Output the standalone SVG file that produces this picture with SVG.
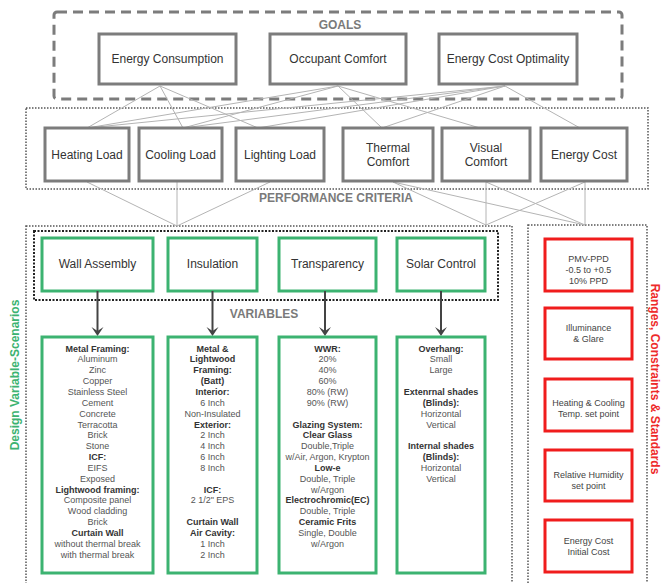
<svg xmlns="http://www.w3.org/2000/svg" width="672" height="583" viewBox="0 0 672 583">
<style>
text{font-family:"Liberation Sans",Arial,sans-serif;text-anchor:middle}
.gbox{fill:#fff;stroke:#7c7c7c;stroke-width:3}
.grn{fill:#fff;stroke:#3cb371;stroke-width:3}
.red{fill:#fff;stroke:#f01c1c;stroke-width:3}
.lbl{font-size:12px;fill:#333}
.sec{font-size:12px;font-weight:bold;fill:#7a7a7a}
.sm{font-size:9px;fill:#444}
.dt{font-size:9px;fill:#555}
.dt .b{font-weight:bold;fill:#333}
.conn line{stroke:#b4b4b4;stroke-width:1}
.dot{fill:none;stroke:#555;stroke-width:1.5;stroke-dasharray:1.5 1.5}
.dot2{fill:none;stroke:#222;stroke-width:2;stroke-dasharray:2 1.5}
.arr line{stroke:#444;stroke-width:2}
.arr path{fill:#444}
</style>

<g id="section-boxes">
<rect x="54" y="12" width="568" height="87" rx="3" fill="none" stroke="#7c7c7c" stroke-width="3" stroke-dasharray="10 6"/>
<rect class="dot" x="26" y="108" width="622" height="81"/>
<rect class="dot" x="26" y="226" width="486" height="362"/>
<rect class="dot2" x="34" y="231" width="464" height="69"/>
<rect class="dot" x="528" y="225" width="119" height="363"/>
<text class="sec" x="340" y="29">GOALS</text>
<text class="sec" x="336" y="202">PERFORMANCE CRITERIA</text>
<text class="sec" x="264" y="318">VARIABLES</text>
<text transform="translate(19,375) rotate(-90)" style="font-size:12px;font-weight:bold;fill:#3cb371">Design Variable-Scenarios</text>
<text transform="translate(651,379) rotate(90)" style="font-size:12px;font-weight:bold;fill:#ee2a2a">Ranges, Constraints &amp; Standards</text>
</g>

<g id="connectors" class="conn">
<line x1="160" y1="86" x2="87" y2="128"/>
<line x1="160" y1="86" x2="183" y2="128"/>
<line x1="160" y1="86" x2="258" y2="128"/>
<line x1="338" y1="86" x2="87" y2="128"/>
<line x1="338" y1="86" x2="183" y2="128"/>
<line x1="338" y1="86" x2="382" y2="128"/>
<line x1="338" y1="86" x2="480" y2="128"/>
<line x1="505" y1="86" x2="87" y2="128"/>
<line x1="505" y1="86" x2="183" y2="128"/>
<line x1="505" y1="86" x2="258" y2="128"/>
<line x1="505" y1="86" x2="382" y2="128"/>
<line x1="505" y1="86" x2="580" y2="128"/>
<line x1="87" y1="182" x2="177" y2="226"/>
<line x1="177" y1="182" x2="177" y2="226"/>
<line x1="270" y1="182" x2="177" y2="226"/>
<line x1="393" y1="182" x2="486" y2="225"/>
<line x1="393" y1="182" x2="585" y2="225"/>
<line x1="486" y1="182" x2="486" y2="225"/>
<line x1="486" y1="182" x2="585" y2="225"/>
<line x1="585" y1="182" x2="585" y2="225"/>
<line x1="585" y1="182" x2="486" y2="225"/>
</g>

<g id="goal-energy-consumption"><rect class="gbox" x="99" y="34" width="137" height="50"/><text class="lbl" x="167.5" y="63">Energy Consumption</text></g>
<g id="goal-occupant-comfort"><rect class="gbox" x="270" y="34" width="136" height="50"/><text class="lbl" x="338" y="63">Occupant Comfort</text></g>
<g id="goal-energy-cost-optimality"><rect class="gbox" x="439" y="34" width="138" height="50"/><text class="lbl" x="508" y="63">Energy Cost Optimality</text></g>

<g id="crit-heating-load"><rect class="gbox" x="45" y="128" width="84" height="53"/><text class="lbl" x="87" y="159">Heating Load</text></g>
<g id="crit-cooling-load"><rect class="gbox" x="139" y="128" width="83" height="53"/><text class="lbl" x="180.5" y="159">Cooling Load</text></g>
<g id="crit-lighting-load"><rect class="gbox" x="236" y="128" width="88" height="53"/><text class="lbl" x="280" y="159">Lighting Load</text></g>
<g id="crit-thermal-comfort"><rect class="gbox" x="343" y="128" width="90" height="53"/><text class="lbl" x="388" y="152">Thermal</text><text class="lbl" x="388" y="166">Comfort</text></g>
<g id="crit-visual-comfort"><rect class="gbox" x="442" y="128" width="88" height="53"/><text class="lbl" x="486" y="152">Visual</text><text class="lbl" x="486" y="166">Comfort</text></g>
<g id="crit-energy-cost"><rect class="gbox" x="541" y="128" width="86" height="53"/><text class="lbl" x="584" y="159">Energy Cost</text></g>

<g id="var-wall-assembly"><rect class="grn" x="42" y="238" width="111" height="53"/><text class="lbl" x="97.5" y="268">Wall Assembly</text></g>
<g id="var-insulation"><rect class="grn" x="168" y="238" width="89" height="53"/><text class="lbl" x="212.5" y="268">Insulation</text></g>
<g id="var-transparency"><rect class="grn" x="279" y="238" width="97" height="53"/><text class="lbl" x="327.5" y="268">Transparency</text></g>
<g id="var-solar-control"><rect class="grn" x="397" y="238" width="88" height="53"/><text class="lbl" x="441" y="268">Solar Control</text></g>

<g id="arrows" class="arr">
<line x1="97.5" y1="291" x2="97.5" y2="332"/><path d="M91.5,327 L97.5,336 L103.5,327 L97.5,331 Z"/>
<line x1="212.5" y1="291" x2="212.5" y2="332"/><path d="M206.5,327 L212.5,336 L218.5,327 L212.5,331 Z"/>
<line x1="325" y1="291" x2="325" y2="332"/><path d="M319,327 L325,336 L331,327 L325,331 Z"/>
<line x1="441" y1="291" x2="441" y2="332"/><path d="M435,327 L441,336 L447,327 L441,331 Z"/>
</g>

<g id="detail-wall" class="dt"><rect class="grn" x="42" y="337" width="111" height="236"/>
<text x="97.5" y="351.5" class="b">Metal Framing:</text>
<text x="97.5" y="362.4">Aluminum</text>
<text x="97.5" y="373.2">Zinc</text>
<text x="97.5" y="384.1">Copper</text>
<text x="97.5" y="394.9">Stainless Steel</text>
<text x="97.5" y="405.8">Cement</text>
<text x="97.5" y="416.6">Concrete</text>
<text x="97.5" y="427.5">Terracotta</text>
<text x="97.5" y="438.3">Brick</text>
<text x="97.5" y="449.2">Stone</text>
<text x="97.5" y="460.0" class="b">ICF:</text>
<text x="97.5" y="470.9">EIFS</text>
<text x="97.5" y="481.7">Exposed</text>
<text x="97.5" y="492.6" class="b">Lightwood framing:</text>
<text x="97.5" y="503.4">Composite panel</text>
<text x="97.5" y="514.3">Wood cladding</text>
<text x="97.5" y="525.1">Brick</text>
<text x="97.5" y="536.0" class="b">Curtain Wall</text>
<text x="97.5" y="546.8">without thermal break</text>
<text x="97.5" y="557.7">with thermal break</text>
</g>

<g id="detail-insulation" class="dt"><rect class="grn" x="168" y="337" width="89" height="236"/>
<text x="212.5" y="351.5" class="b">Metal &amp;</text>
<text x="212.5" y="362.4" class="b">Lightwood</text>
<text x="212.5" y="373.2" class="b">Framing:</text>
<text x="212.5" y="384.1" class="b">(Batt)</text>
<text x="212.5" y="394.9" class="b">Interior:</text>
<text x="212.5" y="405.8">6 Inch</text>
<text x="212.5" y="416.6">Non-Insulated</text>
<text x="212.5" y="427.5" class="b">Exterior:</text>
<text x="212.5" y="438.3">2 Inch</text>
<text x="212.5" y="449.2">4 Inch</text>
<text x="212.5" y="460.0">6 Inch</text>
<text x="212.5" y="470.9">8 Inch</text>
<text x="212.5" y="492.6" class="b">ICF:</text>
<text x="212.5" y="503.4">2 1/2" EPS</text>
<text x="212.5" y="525.1" class="b">Curtain Wall</text>
<text x="212.5" y="536.0" class="b">Air Cavity:</text>
<text x="212.5" y="546.8">1 Inch</text>
<text x="212.5" y="557.7">2 Inch</text>
</g>

<g id="detail-transparency" class="dt"><rect class="grn" x="279" y="337" width="97" height="236"/>
<text x="327.5" y="351.5" class="b">WWR:</text>
<text x="327.5" y="362.4">20%</text>
<text x="327.5" y="373.2">40%</text>
<text x="327.5" y="384.1">60%</text>
<text x="327.5" y="394.9">80% (RW)</text>
<text x="327.5" y="405.8">90% (RW)</text>
<text x="327.5" y="427.5" class="b">Glazing System:</text>
<text x="327.5" y="438.3" class="b">Clear Glass</text>
<text x="327.5" y="449.2">Double,Triple</text>
<text x="327.5" y="460.0">w/Air, Argon, Krypton</text>
<text x="327.5" y="470.9" class="b">Low-e</text>
<text x="327.5" y="481.7">Double, Triple</text>
<text x="327.5" y="492.6">w/Argon</text>
<text x="327.5" y="503.4" class="b">Electrochromic(EC)</text>
<text x="327.5" y="514.3">Double, Triple</text>
<text x="327.5" y="525.1" class="b">Ceramic Frits</text>
<text x="327.5" y="536.0">Single, Double</text>
<text x="327.5" y="546.8">w/Argon</text>
</g>

<g id="detail-solar-control" class="dt"><rect class="grn" x="397" y="337" width="88" height="236"/>
<text x="441" y="351.5" class="b">Overhang:</text>
<text x="441" y="362.4">Small</text>
<text x="441" y="373.2">Large</text>
<text x="441" y="394.9" class="b">Extenrnal shades</text>
<text x="441" y="405.8" class="b">(Blinds):</text>
<text x="441" y="416.6">Horizontal</text>
<text x="441" y="427.5">Vertical</text>
<text x="441" y="449.2" class="b">Internal shades</text>
<text x="441" y="460.0" class="b">(Blinds):</text>
<text x="441" y="470.9">Horizontal</text>
<text x="441" y="481.7">Vertical</text>
</g>

<g id="con-pmv-ppd"><rect class="red" x="545" y="239" width="87" height="52"/><text class="sm" x="588.5" y="262">PMV-PPD</text><text class="sm" x="588.5" y="273">-0.5 to +0.5</text><text class="sm" x="588.5" y="284">10% PPD</text></g>
<g id="con-illuminance"><rect class="red" x="545" y="308" width="87" height="51"/><text class="sm" x="588.5" y="331">Illuminance</text><text class="sm" x="588.5" y="342">&amp; Glare</text></g>
<g id="con-temp-setpoint"><rect class="red" x="545" y="379" width="87" height="52"/><text class="sm" x="588.5" y="406">Heating &amp; Cooling</text><text class="sm" x="588.5" y="417">Temp. set point</text></g>
<g id="con-humidity"><rect class="red" x="545" y="450" width="87" height="51"/><text class="sm" x="588.5" y="478">Relative Humidity</text><text class="sm" x="588.5" y="489">set point</text></g>
<g id="con-energy-cost"><rect class="red" x="545" y="520" width="87" height="52"/><text class="sm" x="588.5" y="544">Energy Cost</text><text class="sm" x="588.5" y="555">Initial Cost</text></g>
</svg>
